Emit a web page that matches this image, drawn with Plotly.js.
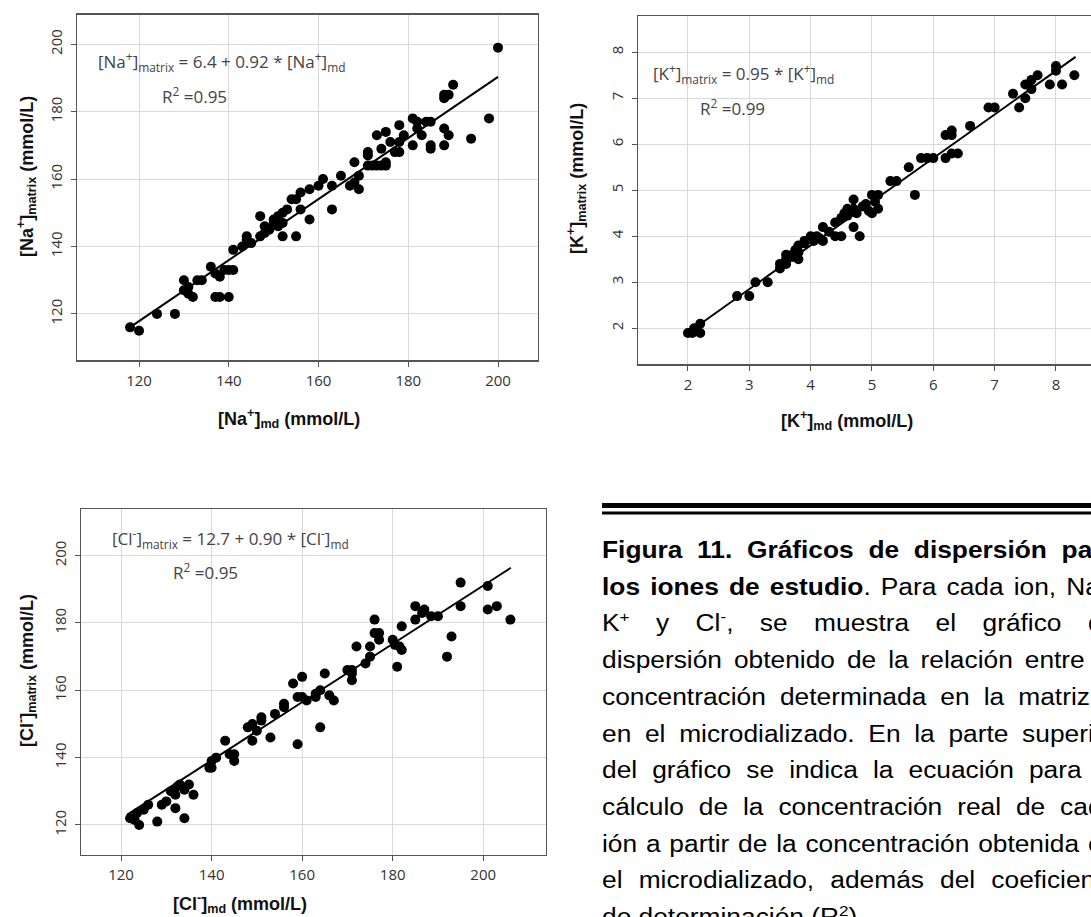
<!DOCTYPE html>
<html><head><meta charset="utf-8">
<script src="https://cdn.plot.ly/plotly-3.0.1.min.js"></script>
<style>
html,body{margin:0;padding:0;overflow:hidden;background:#fff;width:1091px;height:917px;position:relative;}
#plot{position:absolute;left:0;top:0;width:1120px;height:917px;}
#cap{position:absolute;left:602px;top:532px;width:460px;font-family:"Liberation Sans",Arial,sans-serif;font-size:23.5px;line-height:36.7px;color:#000;transform:scaleX(1.12);transform-origin:0 0;}
#cap div{text-align:justify;text-align-last:justify;white-space:nowrap;}
#cap div.last{text-align:left;text-align-last:left;}
#cap sup{font-size:65%;line-height:0;vertical-align:0.6em;}
</style>
</head><body>
<div id="plot"></div>
<div id="cap">
<div><b>Figura 11. Gráficos de dispersión para</b></div>
<div><b>los iones de estudio</b>. Para cada ion, Na<sup>+</sup>,</div>
<div>K<sup>+</sup> y Cl<sup>-</sup>, se muestra el gráfico de</div>
<div>dispersión obtenido de la relación entre la</div>
<div>concentración determinada en la matriz y</div>
<div>en el microdializado. En la parte superior</div>
<div>del gráfico se indica la ecuación para el</div>
<div>cálculo de la concentración real de cada</div>
<div>ión a partir de la concentración obtenida en</div>
<div>el microdializado, además del coeficiente</div>
<div class="last">de determinación (R<sup>2</sup>).</div>
</div>
<script>
// ---- Data ----
const naX = [118,120,124,128,130,130,131,131,132,133,134,136,137,137,138,138,139,140,140,141,141,143,144,144,145,147,147,148,148,149,150,150,151,151,152,152,153,152,154,155,155,156,156,158,158,160,161,163,163,165,167,168,168,169,169,171,171,171,172,173,174,175,175,173,174,175,176,177,178,178,178,179,181,181,182,182,183,184,185,185,185,188,188,189,190,188,188,189,194,198,200];
const naY = [116,115,120,120,130,127,128,126,125,130,130,134,132,125,125,131,133,133,125,133,139,140,143,142,141,149,143,144,146,145,148,147,149,146,150,147,151,143,154,154,143,151,156,148,157,158,160,158,151,161,158,165,159,157,161,168,167,164,164,164,164,164,165,173,169,174,171,168,176,168,171,173,178,170,177,175,173,177,177,170,169,185,184,185,188,175,170,173,172,178,199];
const naFitX = [118.2, 200];
const naFitY = [116.2, 190.3];

const kX = [2.0,2.07,2.1,2.2,2.2,2.8,3.0,3.1,3.3,3.5,3.5,3.6,3.6,3.6,3.7,3.7,3.75,3.8,3.8,3.8,3.9,3.9,4.0,4.0,4.05,4.1,4.15,4.2,4.2,4.3,4.4,4.4,4.5,4.5,4.55,4.6,4.6,4.65,4.7,4.7,4.7,4.75,4.8,4.85,4.9,4.95,5.0,5.0,5.05,5.1,5.1,5.3,5.4,5.6,5.7,5.8,5.9,6.0,6.2,6.2,6.3,6.3,6.3,6.4,6.6,6.9,7.0,7.3,7.4,7.5,7.5,7.6,7.6,7.7,7.9,8.0,8.0,8.1,8.3];
const kY = [1.9,1.9,2.0,2.1,1.9,2.7,2.7,3.0,3.0,3.4,3.3,3.6,3.4,3.5,3.55,3.6,3.7,3.5,3.65,3.8,3.85,3.9,4.0,3.95,3.9,4.0,3.95,4.2,3.9,4.1,4.0,4.3,4.0,4.4,4.5,4.45,4.6,4.55,4.8,4.2,4.6,4.5,4.0,4.65,4.7,4.55,4.9,4.5,4.75,4.9,4.6,5.2,5.2,5.5,4.9,5.7,5.7,5.7,6.2,5.7,6.3,6.2,5.8,5.8,6.4,6.8,6.8,7.1,6.8,7.3,7.0,7.4,7.2,7.5,7.3,7.7,7.6,7.3,7.5];
const kFitX = [2.08, 8.32];
const kFitY = [1.98, 7.90];

const clX = [122,123,123.5,124,125,126,128,129,130,131,132,132,132.5,133,134,134,135,136,139.5,140,140,141,143,144,145,145,148,149,149,150,151,151,153,154,156,156,158,159,159,160,160,161,163,163,164,164,165,166,167,170,171,171,171,172,174,175,175,176,176,177,177,180,180.5,181,181.5,182,182,185,185,187,186.5,188.5,190,192,193,195,195,201,201,203,206];
const clY = [122,121.5,123.5,120,124.5,126,121,126,127,130,129,125,131.5,132,130.5,122,132,129,137,137,139,140,145,141,141,139,149,150,145,148,152,151,146,153,155,156,162,144,158,164,158,157,159,158,149,160,165,158.5,157,166,163,166,165,173,168,173,170,181,177,177,175,175,173.5,167,173,179,172,185,181,184,183,182,182,170,176,192,185,191,184,185,181];
const clFitX = [121.3, 206.1];
const clFitY = [123.0, 196.4];

const naTicks = [120,140,160,180,200];
const kTicks = [2,3,4,5,6,7,8];
const clTicks = [120,140,160,180,200];

// ---- Layout helpers (pixel positions) ----
const W = 1120, H = 917;
const px = v => v / W;
const py = v => 1 - v / H;

const tickFont = {family:'Open Sans, sans-serif', size:15, color:'#333'};
function axis(domain, range, ticks, anchor, isY){
  const a = {domain:domain, range:range, tickmode:'array', tickvals:ticks, anchor:anchor,
    showgrid:true, gridcolor:'#d9d9d9', gridwidth:1, zeroline:false,
    showline:true, linecolor:'#555', linewidth:1.5, mirror:true,
    ticks:'outside', ticklen:5, tickwidth:1, tickcolor:'#555', tickfont:tickFont, fixedrange:true};
  if(isY){ a.tickangle = -90; a.ticklabelstandoff = 3; } else { a.ticklabelstandoff = 1; }
  return a;
}

const mk = {color:'#000', size:10};
const ln = {color:'#000', width:2};
const data = [
  {x:naX, y:naY, type:'scatter', mode:'markers', marker:mk, xaxis:'x', yaxis:'y'},
  {x:naFitX, y:naFitY, type:'scatter', mode:'lines', line:ln, xaxis:'x', yaxis:'y'},
  {x:kX, y:kY, type:'scatter', mode:'markers', marker:mk, xaxis:'x2', yaxis:'y2'},
  {x:kFitX, y:kFitY, type:'scatter', mode:'lines', line:ln, xaxis:'x2', yaxis:'y2'},
  {x:clX, y:clY, type:'scatter', mode:'markers', marker:mk, xaxis:'x3', yaxis:'y3'},
  {x:clFitX, y:clFitY, type:'scatter', mode:'lines', line:ln, xaxis:'x3', yaxis:'y3'}
];

const eqFont = {family:'Open Sans, sans-serif', size:17, color:'#444'};
const ttlFont = {family:'Liberation Sans, Arial, sans-serif', size:18, color:'#111'};
function ann(text, x, y, font, opts){
  return Object.assign({text:text, x:px(x), y:py(y), xref:'paper', yref:'paper', showarrow:false,
    xanchor:'left', yanchor:'middle', font:font}, opts||{});
}

const layout = {
  width:W, height:H, margin:{l:0,r:0,t:0,b:0}, showlegend:false,
  paper_bgcolor:'#fff', plot_bgcolor:'#fff',
  xaxis:  axis([px(77.1), px(537.5)], [106.2, 208.8], naTicks, 'y', false),
  yaxis:  axis([py(360.4), py(14.6)], [106.2, 208.8], naTicks, 'x', true),
  xaxis2: axis([px(638), px(1103.8)], [1.185, 8.78], kTicks, 'y2', false),
  yaxis2: axis([py(364.2), py(16.4)], [1.22, 8.78], kTicks, 'x2', true),
  xaxis3: axis([px(81.2), px(545.7)], [111.2, 213.8], clTicks, 'y3', false),
  yaxis3: axis([py(854.6), py(509.2)], [111.2, 213.8], clTicks, 'x3', true),
  shapes:[
    {type:'rect', xref:'paper', yref:'paper', x0:px(602), x1:1, y0:py(508), y1:py(503), fillcolor:'#000', line:{width:0}},
    {type:'rect', xref:'paper', yref:'paper', x0:px(602), x1:1, y0:py(514.5), y1:py(511.5), fillcolor:'#000', line:{width:0}}
  ],
  annotations:[
    ann('[Na<sup>+</sup>]<sub>matrix</sub> = 6.4 + 0.92 * [Na<sup>+</sup>]<sub>md</sub>', 95.6, 61, eqFont),
    ann('R<sup>2</sup> =0.95', 160, 95, eqFont),
    ann('[K<sup>+</sup>]<sub>matrix</sub> = 0.95 * [K<sup>+</sup>]<sub>md</sub>', 650.5, 74, eqFont),
    ann('R<sup>2</sup> =0.99', 697.5, 107, eqFont),
    ann('[Cl<sup>-</sup>]<sub>matrix</sub> = 12.7 + 0.90 * [Cl<sup>-</sup>]<sub>md</sub>', 109.5, 538, eqFont),
    ann('R<sup>2</sup> =0.95', 171, 571, eqFont),
    ann('<b>[Na<sup>+</sup>]<sub>md</sub> (mmol/L)</b>', 288.7, 418, ttlFont, {xanchor:'center'}),
    ann('<b>[K<sup>+</sup>]<sub>md</sub> (mmol/L)</b>', 847, 420, ttlFont, {xanchor:'center'}),
    ann('<b>[Cl<sup>-</sup>]<sub>md</sub> (mmol/L)</b>', 240, 903, ttlFont, {xanchor:'center'}),
    ann('<b>[Na<sup>+</sup>]<sub>matrix</sub> (mmol/L)</b>', 27, 177, ttlFont, {xanchor:'center', textangle:-90}),
    ann('<b>[K<sup>+</sup>]<sub>matrix</sub> (mmol/L)</b>', 576, 179, ttlFont, {xanchor:'center', textangle:-90}),
    ann('<b>[Cl<sup>-</sup>]<sub>matrix</sub> (mmol/L)</b>', 26, 671, ttlFont, {xanchor:'center', textangle:-90})
  ]
};

Plotly.newPlot('plot', data, layout, {displayModeBar:false, staticPlot:true});
</script>
</body></html>
